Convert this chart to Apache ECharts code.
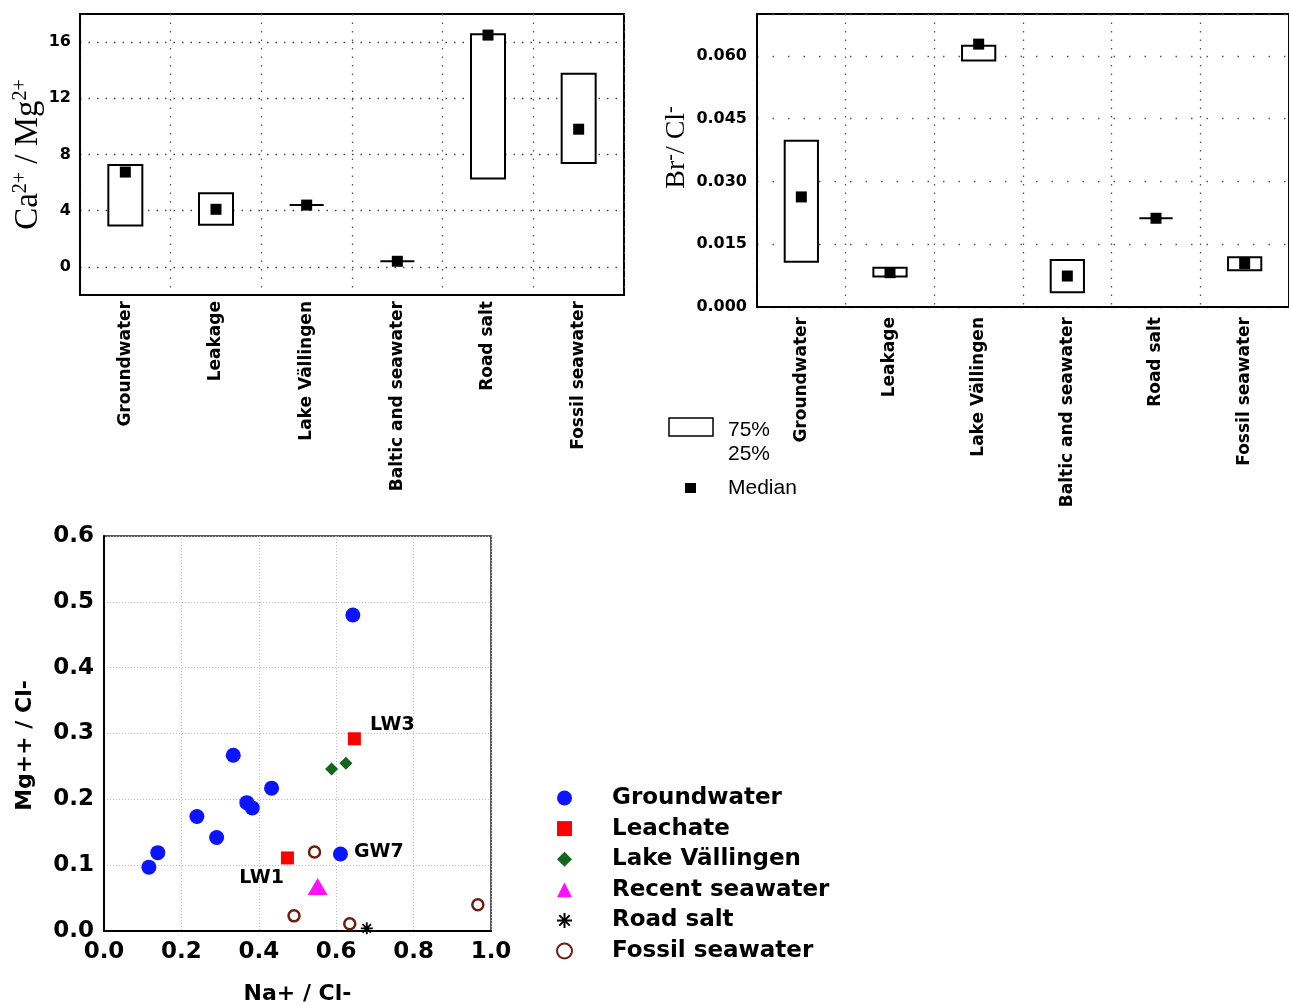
<!DOCTYPE html>
<html>
<head>
<meta charset="utf-8">
<script src="https://cdn.jsdelivr.net/npm/echarts@6/dist/echarts.min.js"></script>
<style>html,body{margin:0;padding:0;background:#fff}#c{width:1289px;height:1006px}</style>
</head>
<body>
<div id="c"></div>
<script>
// ---------- Data ----------
const boxCategories = ['Groundwater', 'Leakage', 'Lake Vällingen', 'Baltic and seawater', 'Road salt', 'Fossil seawater'];

// Ca2+/Mg2+ (top-left)
const caMgQ25 = [2.95, 3.0, 4.4, 0.4, 6.3, 7.4];
const caMgQ75 = [7.25, 5.25, 4.4, 0.4, 16.55, 13.75];
const caMgMedian = [6.75, 4.1, 4.4, 0.4, 16.5, 9.8];

// Br-/Cl- (top-right)
const brClQ25 = [0.0108, 0.0073, 0.0589, 0.0035, 0.0212, 0.0088];
const brClQ75 = [0.0397, 0.0094, 0.0624, 0.0112, 0.0212, 0.0119];
const brClMedian = [0.0263, 0.0082, 0.0628, 0.0074, 0.0212, 0.0104];

// Na+/Cl- vs Mg++/Cl- (bottom)
const groundwaterNaCl = [0.643, 0.334, 0.433, 0.369, 0.383, 0.240, 0.291, 0.139, 0.116, 0.611];
const groundwaterMgCl = [0.480, 0.267, 0.217, 0.195, 0.187, 0.174, 0.142, 0.119, 0.097, 0.117];
const groundwaterLabels = ['', '', '', '', '', '', '', '', '', 'GW7'];
const leachateNaCl = [0.647, 0.474];
const leachateMgCl = [0.292, 0.111];
const leachateLabels = ['LW3', 'LW1'];
const lakeNaCl = [0.588, 0.625];
const lakeMgCl = [0.246, 0.255];
const recentSeaNaCl = [0.552];
const recentSeaMgCl = [0.0675];
const roadSaltNaCl = [0.679];
const roadSaltMgCl = [0.004];
const fossilSeaNaCl = [0.544, 0.491, 0.635, 0.966];
const fossilSeaMgCl = [0.120, 0.023, 0.011, 0.040];

const scatterNames = ['Groundwater', 'Leachate', 'Lake Vällingen', 'Recent seawater', 'Road salt', 'Fossil seawater'];
const caMgTickValues = [0, 4, 8, 12, 16];

// ---------- Build ----------
const chart = echarts.init(document.getElementById('c'), null, { renderer: 'canvas' });
const BOLD = 'DejaVu Sans';
const labelPos = {
  'LW3': { position: 'right', offset: [4, -14] },
  'LW1': { position: 'left', offset: [8, 20] },
  'GW7': { position: 'right', offset: [1, -2] }
};
function pts(xs, ys, labels) {
  return xs.map((x, i) => {
    const item = { value: [x, ys[i]] };
    const name = labels ? labels[i] : '';
    if (name) {
      item.label = Object.assign({
        show: true, formatter: name, color: '#000',
        fontFamily: BOLD, fontWeight: 'bold', fontSize: 19
      }, labelPos[name]);
    }
    return item;
  });
}
function boxData(lo, hi) { return lo.map((v, i) => [i, v, hi[i]]); }
function renderBox(params, api) {
  const x = api.value(0);
  const top = api.coord([x, api.value(2)]);
  const bot = api.coord([x, api.value(1)]);
  const w = api.size([1, 0])[0] * 0.375;
  return {
    type: 'rect',
    shape: { x: top[0] - w / 2, y: top[1], width: w, height: bot[1] - top[1] },
    style: { fill: '#fff', stroke: '#000', lineWidth: 2 }
  };
}
const gridLine = (dash, color) => ({ show: true, lineStyle: { color: color, width: 1.3, type: dash } });
const catAxis = (gi, margin) => ({
  type: 'category', gridIndex: gi, data: boxCategories,
  axisLine: { show: true, onZero: false, lineStyle: { color: '#000', width: 2 } },
  axisTick: { show: false },
  axisLabel: { interval: 0, rotate: 90, margin: margin, color: '#000', fontFamily: BOLD, fontWeight: 'bold', fontSize: 17 },
  splitLine: gridLine([1.5, 7], '#555')
});
const medianStyle = { color: '#000', opacity: 1 };

const option = {
  backgroundColor: '#fff',
  animation: false,
  grid: [
    { left: 80, width: 544, top: 14, height: 281, show: true, borderColor: '#000', borderWidth: 2 },
    { left: 757, right: -8, top: 14, height: 293, show: true, borderColor: '#000', borderWidth: 2 },
    { left: 104, width: 387, top: 536, height: 397, show: true, borderColor: '#222', borderWidth: 1.5 }
  ],
  xAxis: [
    catAxis(0, 6),
    catAxis(1, 10),
    {
      type: 'value', gridIndex: 2, min: 0, max: 1, interval: 0.2,
      name: 'Na+ / Cl-', nameLocation: 'middle', nameGap: 52,
      nameTextStyle: { color: '#000', fontFamily: BOLD, fontWeight: 'bold', fontSize: 22 },
      axisLine: { show: true, onZero: false, lineStyle: { color: '#000', width: 2 } },
      axisTick: { show: false },
      axisLabel: { color: '#000', fontFamily: BOLD, fontWeight: 'bold', fontSize: 23, margin: 10, formatter: v => v.toFixed(1) },
      splitLine: { show: true, lineStyle: { color: '#bbb', type: [1, 2], width: 1 } }
    }
  ],
  yAxis: [
    {
      type: 'value', gridIndex: 0, min: -2, max: 18, interval: 2,
      name: '{m|Ca}{s|2+}{m| / Mg}{s|2+}', nameLocation: 'middle', nameGap: 23,
      nameTextStyle: {
        rich: {
          m: { fontFamily: 'Liberation Serif', fontSize: 33, color: '#000', lineHeight: 34, verticalAlign: 'bottom' },
          s: { fontFamily: 'Liberation Serif', fontSize: 20, color: '#000', lineHeight: 34, verticalAlign: 'top' }
        }
      },
      axisLine: { show: true, onZero: false, lineStyle: { color: '#000', width: 2 } },
      axisTick: { show: false },
      axisLabel: {
        color: '#000', fontFamily: BOLD, fontWeight: 'bold', fontSize: 16, margin: 9,
        formatter: v => (caMgTickValues.indexOf(v) >= 0 ? String(v) : '')
      },
      splitLine: { show: true, lineStyle: { color: ['rgba(0,0,0,0)', '#444'], width: 1.3, type: [1.5, 7] } }
    },
    {
      type: 'value', gridIndex: 1, min: 0, max: 0.07, interval: 0.015,
      name: '{m|Br}{s|-}{m|/ Cl}{s|-}', nameLocation: 'middle', nameGap: 66,
      nameTextStyle: {
        padding: [0, 0, 0, 26],
        rich: {
          m: { fontFamily: 'Liberation Serif', fontSize: 28, color: '#000', lineHeight: 30, verticalAlign: 'bottom' },
          s: { fontFamily: 'Liberation Serif', fontSize: 20, color: '#000', lineHeight: 30, verticalAlign: 'top' }
        }
      },
      axisLine: { show: true, onZero: false, lineStyle: { color: '#000', width: 2 } },
      axisTick: { show: false },
      axisLabel: { color: '#000', fontFamily: BOLD, fontWeight: 'bold', fontSize: 16, margin: 10, showMaxLabel: false, formatter: v => v.toFixed(3) },
      splitLine: gridLine([1.5, 14], '#555')
    },
    {
      type: 'value', gridIndex: 2, min: 0, max: 0.6, interval: 0.1,
      name: 'Mg++ / Cl-', nameLocation: 'middle', nameGap: 68,
      nameTextStyle: { color: '#000', fontFamily: BOLD, fontWeight: 'bold', fontSize: 22, padding: [0, 24, 0, 0] },
      axisLine: { show: true, onZero: false, lineStyle: { color: '#000', width: 2 } },
      axisTick: { show: false },
      axisLabel: { color: '#000', fontFamily: BOLD, fontWeight: 'bold', fontSize: 23, margin: 10, formatter: v => v.toFixed(1) },
      splitLine: { show: true, lineStyle: { color: '#bbb', type: [1, 2], width: 1 } }
    }
  ],
  legend: {
    data: scatterNames,
    orient: 'vertical', left: 551, top: 781,
    itemWidth: 15, itemHeight: 15, itemGap: 6.6,
    textStyle: { color: '#000', fontFamily: BOLD, fontWeight: 'bold', fontSize: 23, lineHeight: 24, padding: [0, 0, 0, 35] }
  },
  graphic: [
    { type: 'rect', shape: { x: 669, y: 418, width: 44, height: 18 }, style: { fill: '#fff', stroke: '#000', lineWidth: 1.5 } },
    { type: 'text', x: 728, y: 430, style: { text: '75%', font: '21px "Liberation Sans"', fill: '#000', verticalAlign: 'middle' } },
    { type: 'text', x: 728, y: 454, style: { text: '25%', font: '21px "Liberation Sans"', fill: '#000', verticalAlign: 'middle' } },
    { type: 'rect', shape: { x: 685, y: 483, width: 11, height: 10 }, style: { fill: '#000' } },
    { type: 'text', x: 728, y: 488, style: { text: 'Median', font: '21px "Liberation Sans"', fill: '#000', verticalAlign: 'middle' } }
  ],
  series: [
    { type: 'custom', xAxisIndex: 0, yAxisIndex: 0, renderItem: renderBox, data: boxData(caMgQ25, caMgQ75), encode: { x: 0, y: [1, 2] }, z: 2 },
    { type: 'scatter', xAxisIndex: 0, yAxisIndex: 0, symbol: 'rect', symbolSize: 11, itemStyle: medianStyle, data: caMgMedian.map((v, i) => [i, v]), z: 3 },
    { type: 'custom', xAxisIndex: 1, yAxisIndex: 1, renderItem: renderBox, data: boxData(brClQ25, brClQ75), encode: { x: 0, y: [1, 2] }, z: 2 },
    { type: 'scatter', xAxisIndex: 1, yAxisIndex: 1, symbol: 'rect', symbolSize: 11, itemStyle: medianStyle, data: brClMedian.map((v, i) => [i, v]), z: 3 },

    { name: 'Groundwater', type: 'scatter', xAxisIndex: 2, yAxisIndex: 2, symbol: 'circle', symbolSize: 15, itemStyle: { color: '#0a14ff', opacity: 1 }, data: pts(groundwaterNaCl, groundwaterMgCl, groundwaterLabels) },
    { name: 'Leachate', type: 'scatter', xAxisIndex: 2, yAxisIndex: 2, symbol: 'rect', symbolSize: 13, itemStyle: { color: '#ff0000', opacity: 1 }, data: pts(leachateNaCl, leachateMgCl, leachateLabels) },
    { name: 'Lake Vällingen', type: 'scatter', xAxisIndex: 2, yAxisIndex: 2, symbol: 'diamond', symbolSize: 13, itemStyle: { color: '#11661a', opacity: 1 }, data: pts(lakeNaCl, lakeMgCl) },
    { name: 'Recent seawater', type: 'scatter', xAxisIndex: 2, yAxisIndex: 2, symbol: 'triangle', symbolSize: [20, 17], itemStyle: { color: '#ff10ff', opacity: 1 }, data: pts(recentSeaNaCl, recentSeaMgCl) },
    { name: 'Road salt', type: 'scatter', xAxisIndex: 2, yAxisIndex: 2, symbol: 'path://M0,5L10,5M5,0L5,10M1.5,1.5L8.5,8.5M8.5,1.5L1.5,8.5', symbolSize: 12, itemStyle: { color: 'rgba(0,0,0,0)', borderColor: '#000', borderWidth: 1.8, opacity: 1 }, data: pts(roadSaltNaCl, roadSaltMgCl) },
    { name: 'Fossil seawater', type: 'scatter', xAxisIndex: 2, yAxisIndex: 2, symbol: 'circle', symbolSize: 11, itemStyle: { color: '#fff', borderColor: '#6b1f10', borderWidth: 2.5, opacity: 1 }, data: pts(fossilSeaNaCl, fossilSeaMgCl) }
  ]
};
chart.setOption(option);
</script>
</body>
</html>
